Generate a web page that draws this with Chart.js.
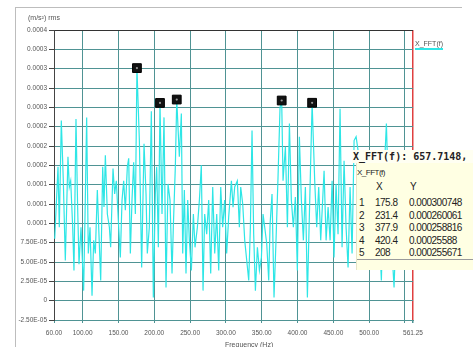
<!DOCTYPE html>
<html>
<head>
<meta charset="utf-8">
<script src="https://cdn.jsdelivr.net/npm/chart.js@4.4.1/dist/chart.umd.min.js"></script>
<style>
  body { margin: 0; background: #fff; overflow: hidden; }
  #wrap { position: relative; width: 473px; height: 347px; overflow: hidden; }
  #frame { position: absolute; left: 15px; top: 7px; width: 446px; height: 400px;
           border-top: 1px solid #bdbdbd; border-left: 1px solid #bdbdbd; }
  .lbl { position: absolute; font-family: "Liberation Sans", Arial, sans-serif; color: #555; white-space: nowrap; }
  #tipHead { position: absolute; left: 352px; top: 150px; width: 130px; height: 13px; background: #fffff2;
             font: bold 10px/13px "DejaVu Sans Mono", monospace; color: #222; white-space: nowrap; padding-left: 1px; }
  #tipBox { position: absolute; left: 356px; top: 163px; width: 130px; height: 107px; background: #ffffe3;
            border-left: 1px solid #e6e6c8; }
  .cell { position: absolute; font-family: "Liberation Sans", Arial, sans-serif; font-size: 10px; line-height: 12px;
          letter-spacing: -0.5px; color: #222; white-space: nowrap; }
</style>
</head>
<body>
<div id="wrap">
  <canvas id="myChart" width="473" height="352"></canvas>
  <div id="frame"></div>
  <div class="lbl" style="left:28px; top:14px; font-size:7px;">(m/s&sup2;) rms</div>
  <div class="lbl" style="left:225px; top:341px; font-size:7px;">Frequency (Hz)</div>
  <div class="lbl" style="left:415px; top:40px; font-size:7px; border-bottom:2px solid #2ee6e6; padding-bottom:1px;">X_FFT(f)</div>
  <div id="tipHead">X_FFT(f): 657.7148,</div>
  <div id="tipBox"></div>
</div>
<script>
// spectrum, amplitude in units of 1e-5 (m/s^2) rms
let ampUnit = 1e-5;
let freqs = [61.0, 65.6, 67.4, 70.2, 73.0, 75.8, 79.5, 81.4, 83.3, 86.1, 87.9, 90.7, 93.0, 94.9, 97.7,
    101.4, 103.7, 105.6, 107.9, 110.3, 113.1, 115.4, 117.7, 120.5, 122.4, 125.2, 128.0, 129.8, 131.7,
    134.5, 137.3, 139.1, 142.4, 144.7, 147.0, 149.8, 152.6, 155.0, 157.3, 159.6, 162.4, 164.3, 166.6,
    168.9, 171.2, 173.6, 175.8, 179.2,
    182.4, 185.7, 188.5, 190.3, 193.1, 195.9, 198.7, 201.5, 203.4, 205.7, 208.0, 210.8, 213.6, 216.4,
    219.2, 222.0, 224.8, 226.6, 229.4, 231.4, 235.0, 237.8, 239.7, 242.0, 244.3, 246.7, 249.0, 251.8,
    254.6, 256.9, 260.2, 263.0, 265.7, 268.1, 270.4, 273.2, 276.0, 278.8, 281.6, 284.4, 287.2, 290.0,
    292.8, 295.5, 298.3, 301.1, 303.9,
    307.7, 310.0, 312.3, 316.0, 318.8, 320.7, 323.5, 326.3, 329.1, 331.9, 334.2, 336.5, 338.8, 341.2,
    344.0, 346.8, 349.6, 351.9, 354.2, 357.0, 359.8, 361.7, 364.4, 367.2, 370.0, 372.8, 375.6, 377.9,
    379.8, 383.1, 385.9, 388.7, 391.4, 394.2, 397.0, 399.8, 402.6, 405.4, 408.2, 411.0, 413.8, 416.6,
    420.4, 424.0, 426.8, 429.6, 432.4,
    437.1, 439.9, 442.7, 445.5, 448.3, 451.0, 453.8, 456.6, 459.4, 462.2, 465.0, 467.8, 470.6, 473.4,
    476.2, 479.0, 481.8, 484.6, 487.4, 490.1, 493.9, 498.5, 503.2, 507.8, 512.5, 517.1, 520.9, 524.1,
    527.4, 531.1, 534.8, 538.6, 542.3, 546.0, 548.8];
let amps = [8.0, 17.3, 9.5, 23.3, 15.5, 5.2, 18.6, 14.7, 15.5, 9.5, 3.9, 23.5, 12.1, 4.7, 9.5,
    1.3, 13.0, 23.7, 6.1, 9.5, 0.65, 7.8, 6.1, 14.3, 9.5, 2.6, 17.3, 12.1, 18.8,
    11.2, 9.5, 6.9, 17.1, 13.8, 15.5, 10.4, 5.6, 13.0, 15.5, 11.7, 17.3, 18.4, 6.1,
    13.0, 17.9, 11.2, 30.07, 20.7,
    4.3, 20.3, 13.8, 6.1, 9.5, 24.5, 0.4, 13.8, 17.3, 6.9, 25.57, 11.2, 23.7, 1.7,
    15.1, 13.0, 3.5, 9.5, 17.3, 26.01, 18.6, 24.2, 6.1, 14.3, 3.5, 13.0, 7.8, 3.9,
    11.2, 6.9, 9.5, 13.0, 17.5, 1.3, 11.2, 8.6, 13.0, 3.5, 14.7, 6.1, 11.2, 3.9,
    14.7, 9.5, 13.0, 6.1, 10.8,
    15.5, 12.1, 14.7, 15.5, 9.5, 14.7, 12.5, 7.8, 5.2, 2.6, 9.5, 22.0, 8.6, 1.3,
    6.9, 3.9, 5.6, 11.2, 9.5, 7.4, 2.6, 9.9, 13.8, 0.4, 7.8, 16.0, 25.0, 25.88,
    15.5, 19.9, 9.5, 22.9, 13.0, 9.5, 13.4, 3.9, 21.2, 13.0, 7.8, 14.7, 0.4, 11.2,
    25.56, 15.5, 9.5, 14.7, 7.8,
    16.8, 7.8, 12.1, 7.8, 15.5, 5.6, 15.1, 8.6, 24.8, 6.9, 18.1, 9.5, 4.3, 14.7,
    6.1, 20.7, 21.2, 19.4, 14.3, 9.5, 15.5, 7.8, 12.1, 6.1, 13.0, 2.6, 16.4, 22.9,
    12.1, 7.8, 1.7, 12.1, 6.9, 9.5, 5.6];

// the five marked peaks (also listed in the table)
let peakFreqs = [175.8, 231.4, 377.9, 420.4, 208];
let peakAmps = [0.000300748, 0.000260061, 0.000258816, 0.00025588, 0.000255671];

// axis ticks
let xTicks = [60, 100, 150, 200, 250, 300, 350, 400, 450, 500, 550, 561.25];
let xTickLabels = ['60.00', '100.00', '150.00', '200.00', '250.00', '300.00', '350.00', '400.00',
    '450.00', '500.00', '', '561.25'];
let yTicks = [-2.5, 0, 2.5, 5, 7.5, 10, 12.5, 15, 17.5, 20, 22.5, 25, 27.5, 30, 32.5, 35]; // x 1e-5
let yTickLabels = ['-2.50E-05', '0', '2.50E-05', '5.00E-05', '7.50E-05', '0.0001', '0.0001', '0.0001',
    '0.0002', '0.0002', '0.0002', '0.0003', '0.0003', '0.0003', '0.0003', '0.0004'];

let gridTeal = '#4f9394';
let lineCyan = '#2ee6e6';

// table in the yellow box
let box = document.getElementById('tipBox');
function addCell(text, left, top, size) {
    let d = document.createElement('div');
    d.className = 'cell';
    d.textContent = text;
    d.style.left = left + 'px';
    d.style.top = top + 'px';
    if (size) d.style.fontSize = size + 'px';
    box.appendChild(d);
}
addCell('X_FFT(f)', 0, 4, 8);
addCell('X', 19, 18);
addCell('Y', 53, 18);
for (let i = 0; i < peakFreqs.length; i++) {
    let top = 34 + i * 12.5;
    addCell(String(i + 1), 2, top);
    addCell(String(peakFreqs[i]), 18, top);
    addCell(String(peakAmps[i]), 52, top);
}
let rule = document.createElement('div');
rule.style.cssText = 'position:absolute;left:0;top:96px;width:116px;height:1px;background:#9a9a9a;';
box.appendChild(rule);

let lineData = [];
for (let i = 0; i < freqs.length; i++) {
    lineData.push({ x: freqs[i], y: amps[i] * ampUnit });
}
let peakData = [];
for (let i = 0; i < peakFreqs.length; i++) {
    peakData.push({ x: peakFreqs[i], y: peakAmps[i] });
}

let ctx = document.getElementById('myChart').getContext('2d');
let myChart = new Chart(ctx, {
    type: 'line',
    data: {
        datasets: [{
                label: 'X_FFT(f)',
                data: lineData,
                borderColor: lineCyan,
                borderWidth: 1.2,
                pointRadius: 0,
                tension: 0,
                order: 3
            },
            {
                label: 'peaks',
                data: peakData,
                showLine: false,
                pointStyle: 'rect',
                pointRadius: 6.2,
                backgroundColor: '#111',
                borderColor: '#000',
                borderWidth: 1,
                order: 2
            },
            {
                label: 'peak dots',
                data: peakData,
                showLine: false,
                pointRadius: 1.1,
                backgroundColor: '#9a9a9a',
                borderWidth: 0,
                order: 1
            }
        ]
    },
    options: {
        responsive: false,
        animation: false,
        devicePixelRatio: 1,
        layout: { padding: { left: 0, top: 30, right: 60, bottom: 0 } },
        plugins: { legend: { display: false }, tooltip: { enabled: false } },
        scales: {
            x: {
                type: 'linear',
                min: 60,
                max: 561.25,
                afterFit: function (scale) { scale.height = 32; },
                afterBuildTicks: function (scale) {
                    scale.ticks = xTicks.map(v => ({ value: v }));
                },
                grid: {
                    color: c => (c.index === xTicks.length - 1 ? '#e04040' : gridTeal),
                    lineWidth: c => (c.index === xTicks.length - 1 ? 1.5 : 1),
                    tickLength: 3,
                    tickColor: gridTeal
                },
                border: { color: gridTeal },
                ticks: {
                    autoSkip: false,
                    maxRotation: 0,
                    padding: 6,
                    color: '#555',
                    font: { family: 'Liberation Sans', size: 6.5 },
                    callback: (v, i) => xTickLabels[i]
                }
            },
            y: {
                type: 'linear',
                min: yTicks[0] * ampUnit,
                max: yTicks[yTicks.length - 1] * ampUnit,
                afterFit: function (scale) { scale.width = 54; },
                afterBuildTicks: function (scale) {
                    scale.ticks = yTicks.map(v => ({ value: v * ampUnit }));
                },
                grid: {
                    color: c => (c.index === yTicks.length - 1 ? '#333' : gridTeal),
                    tickLength: 5,
                    tickColor: '#444'
                },
                border: { color: '#444' },
                ticks: {
                    autoSkip: false,
                    padding: 2,
                    color: '#555',
                    font: { family: 'Liberation Sans', size: 6.5 },
                    callback: (v, i) => yTickLabels[i]
                }
            }
        }
    }
});
</script>
</body>
</html>
